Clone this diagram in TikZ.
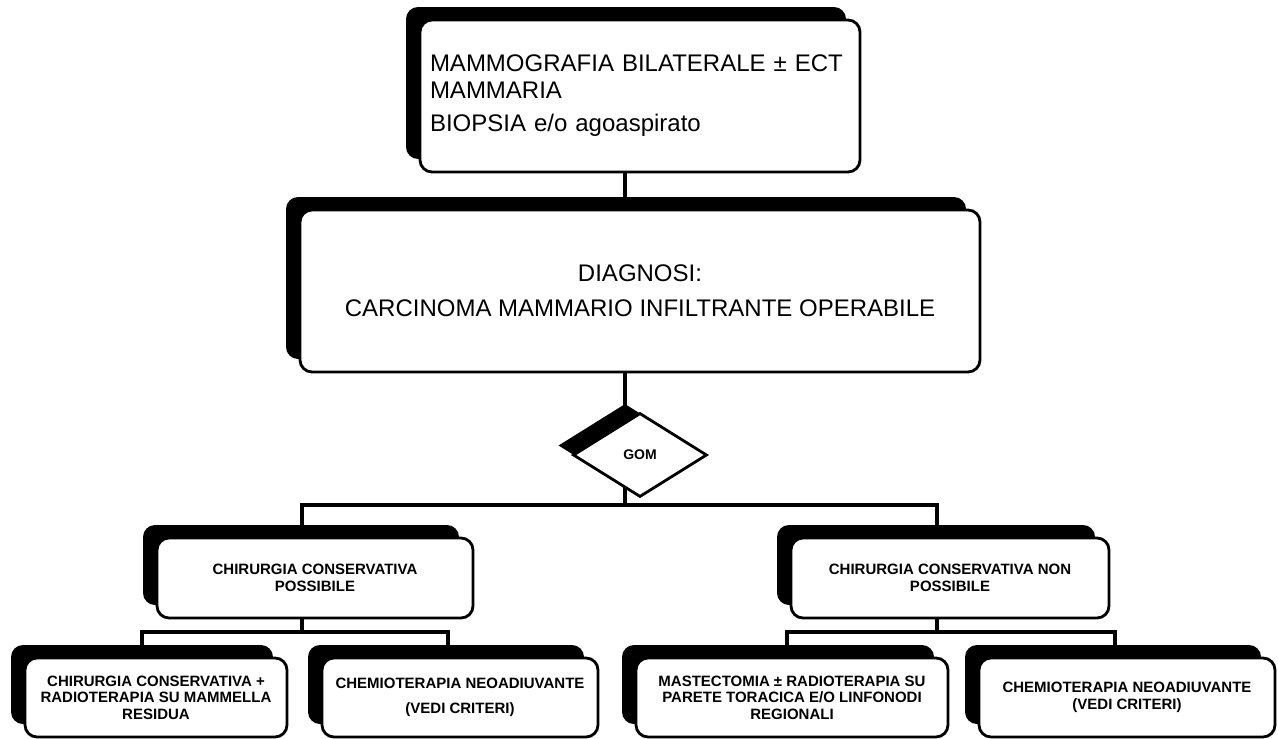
\documentclass[tikz,border=0pt]{standalone}
\usepackage{fontspec}
\setmainfont{Liberation Sans}
\usetikzlibrary{shapes.geometric,shadows}
\pgfdeclarelayer{paper}
\pgfdeclarelayer{bg}
\pgfsetlayers{paper,bg,main}

\begin{document}
\begin{tikzpicture}[x=1pt,y=-1pt,
  card/.style={draw=black, line width=2.8pt, fill=white, rounded corners=12pt,
    inner sep=0pt, align=center,
    drop shadow={shadow xshift=-14pt, shadow yshift=13pt, fill=black, opacity=1}},
  wire/.style={draw=black, line width=3.4pt},
  bigtext/.style={font=\fontsize{24}{27}\selectfont},
  smalltext/.style={font=\bfseries\fontsize{15}{16.5}\selectfont},
]
\begin{pgfonlayer}{paper}
  \fill[white] (0,0) rectangle (1278,739);
\end{pgfonlayer}
\useasboundingbox (0,0) rectangle (1278,739);

% top: examinations
\node[card, bigtext, minimum width=440pt, minimum height=152pt,
      text width=420pt, align=left] (top) at (640,96)
  {MAMMOGRAFIA BILATERALE ± ECT\\MAMMARIA\\[6pt]BIOPSIA e/o agoaspirato};

% diagnosis
\node[card, bigtext, minimum width=680pt, minimum height=162pt] (diag) at (640,291)
  {DIAGNOSI:\\[8pt]CARCINOMA MAMMARIO INFILTRANTE OPERABILE};

% multidisciplinary group decision
\node[diamond, draw=black, line width=2.8pt, fill=white, inner sep=0pt,
      minimum width=134pt, minimum height=84pt,
      font=\bfseries\fontsize{14}{16}\selectfont,
      drop shadow={shadow xshift=-15pt, shadow yshift=9.5pt, fill=black, opacity=1}]
  (gom) at (640,455) {GOM};

% second level
\node[card, smalltext, minimum width=316pt, minimum height=80pt] (lmid) at (315,578)
  {CHIRURGIA CONSERVATIVA\\POSSIBILE};
\node[card, smalltext, minimum width=318pt, minimum height=80pt] (rmid) at (950,578)
  {CHIRURGIA CONSERVATIVA NON\\POSSIBILE};

% treatments
\node[card, smalltext, minimum width=262pt, minimum height=79pt] (bla) at (156,697.5)
  {CHIRURGIA CONSERVATIVA +\\RADIOTERAPIA SU MAMMELLA\\RESIDUA};
\node[card, smalltext, minimum width=276pt, minimum height=79pt] (blb) at (460,697.5)
  {CHEMIOTERAPIA NEOADIUVANTE\\[9pt](VEDI CRITERI)};
\node[card, smalltext, minimum width=312pt, minimum height=79pt] (bra) at (792,697.5)
  {MASTECTOMIA ± RADIOTERAPIA SU\\PARETE TORACICA E/O LINFONODI\\REGIONALI};
\node[card, smalltext, minimum width=296pt, minimum height=79pt] (brb) at (1127,697.5)
  {CHEMIOTERAPIA NEOADIUVANTE\\(VEDI CRITERI)};

% connector rails
\coordinate (bus)  at (640,505);
\coordinate (lbus) at (0,632);
\coordinate (rbus) at (0,632);
\coordinate (spine) at ([xshift=-15pt]top.south);
\coordinate (lmidT) at ([xshift=-13pt]lmid.north);
\coordinate (rmidT) at ([xshift=-13pt]rmid.north);
\coordinate (lmidB) at ([xshift=-13pt]lmid.south);
\coordinate (rmidB) at ([xshift=-13pt]rmid.south);
\coordinate (blaT) at ([xshift=-14pt]bla.north);
\coordinate (blbT) at ([xshift=-12pt]blb.north);
\coordinate (braT) at ([xshift=-5pt]bra.north);
\coordinate (brbT) at ([xshift=-12pt]brb.north);

\begin{pgfonlayer}{bg}
  \draw[wire] (spine) -- (spine |- bus);
  \draw[wire] (lmidT) -- (lmidT |- bus) -- (rmidT |- bus) -- (rmidT);
  \draw[wire] (lmidB) -- (lmidB |- lbus);
  \draw[wire] (blaT) -- (blaT |- lbus) -- (blbT |- lbus) -- (blbT);
  \draw[wire] (rmidB) -- (rmidB |- rbus);
  \draw[wire] (braT) -- (braT |- rbus) -- (brbT |- rbus) -- (brbT);
\end{pgfonlayer}
\end{tikzpicture}
\end{document}
